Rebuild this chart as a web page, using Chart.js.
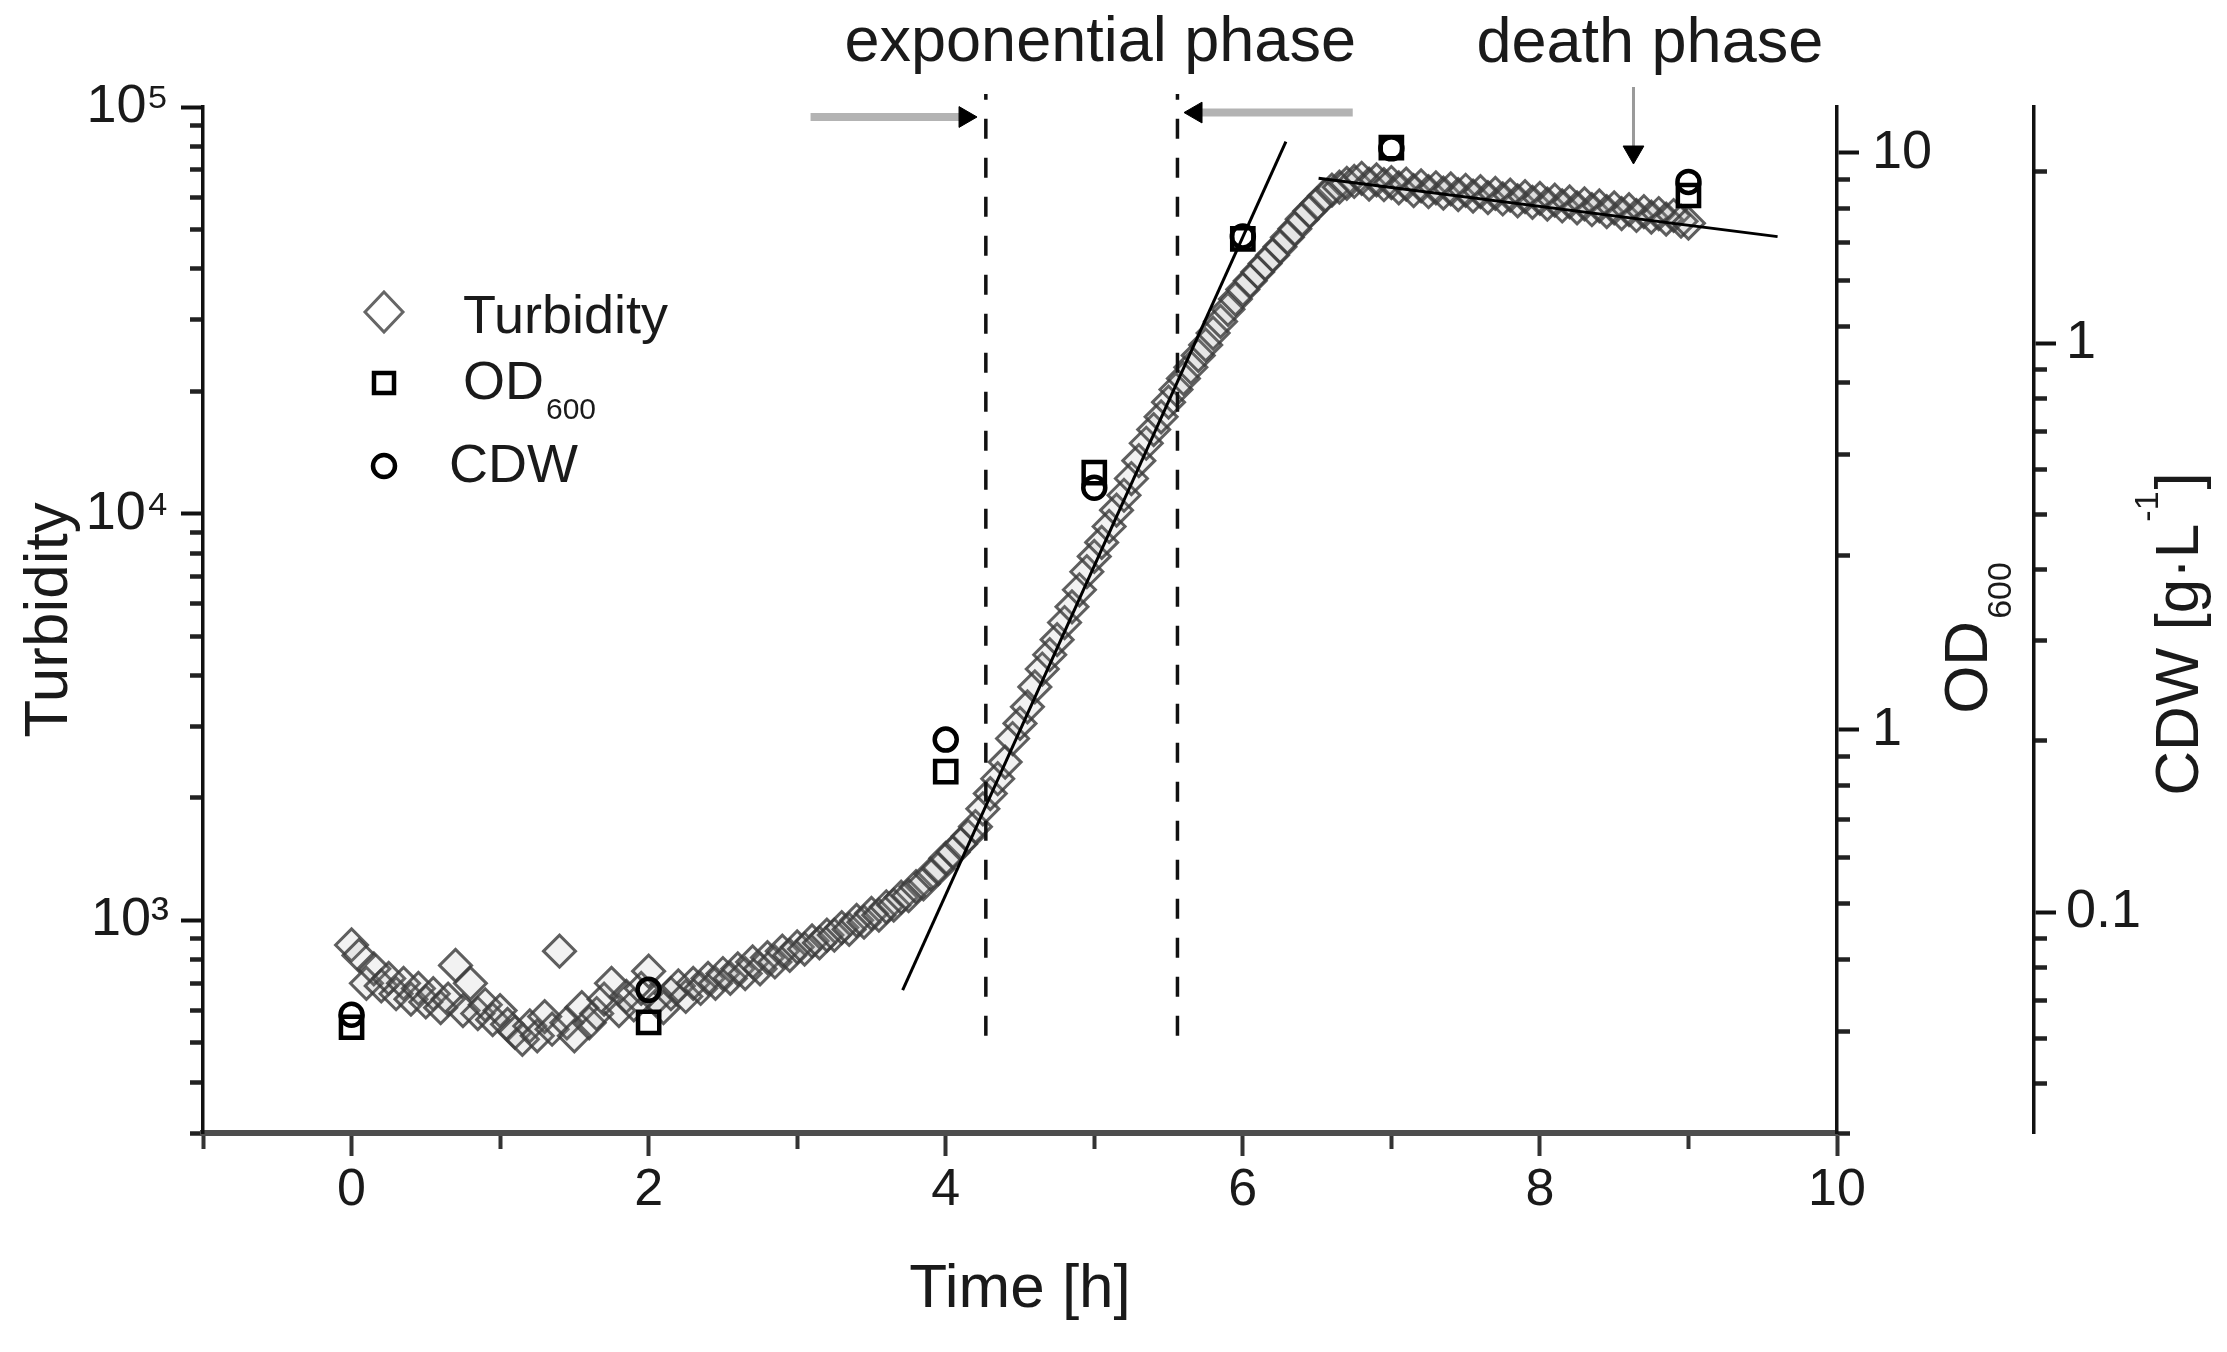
<!DOCTYPE html>
<html>
<head>
<meta charset="utf-8">
<title>Growth curve - turbidity, OD600, CDW</title>
<script src="https://cdn.jsdelivr.net/npm/chart.js@4.4.1/dist/chart.umd.min.js"></script>
<style>
  html, body { margin: 0; padding: 0; background: #fff; }
  #wrap { width: 2227px; height: 1352px; }
</style>
</head>
<body>
<div id="wrap"><canvas id="growthChart"></canvas></div>
<script>
// online turbidity, one reading every 3 min
const turbTime = [
  0, 0.05, 0.1, 0.15, 0.2, 0.25, 0.3, 0.35, 0.4, 0.45,
  0.5, 0.55, 0.6, 0.65, 0.7, 0.75, 0.8, 0.85, 0.9, 0.95,
  1, 1.05, 1.1, 1.15, 1.2, 1.25, 1.3, 1.35, 1.4, 1.45,
  1.5, 1.55, 1.6, 1.65, 1.7, 1.75, 1.8, 1.85, 1.9, 1.95,
  2, 2.05, 2.1, 2.15, 2.2, 2.25, 2.3, 2.35, 2.4, 2.45,
  2.5, 2.55, 2.6, 2.65, 2.7, 2.75, 2.8, 2.85, 2.9, 2.95,
  3, 3.05, 3.1, 3.15, 3.2, 3.25, 3.3, 3.35, 3.4, 3.45,
  3.5, 3.55, 3.6, 3.65, 3.7, 3.75, 3.8, 3.85, 3.9, 3.95,
  4, 4.05, 4.1, 4.15, 4.2, 4.25, 4.3, 4.35, 4.4, 4.45,
  4.5, 4.55, 4.6, 4.65, 4.7, 4.75, 4.8, 4.85, 4.9, 4.95,
  5, 5.05, 5.1, 5.15, 5.2, 5.25, 5.3, 5.35, 5.4, 5.45,
  5.5, 5.55, 5.6, 5.65, 5.7, 5.75, 5.8, 5.85, 5.9, 5.95,
  6, 6.05, 6.1, 6.15, 6.2, 6.25, 6.3, 6.35, 6.4, 6.45,
  6.5, 6.55, 6.6, 6.65, 6.7, 6.75, 6.8, 6.85, 6.9, 6.95,
  7, 7.05, 7.1, 7.15, 7.2, 7.25, 7.3, 7.35, 7.4, 7.45,
  7.5, 7.55, 7.6, 7.65, 7.7, 7.75, 7.8, 7.85, 7.9, 7.95,
  8, 8.05, 8.1, 8.15, 8.2, 8.25, 8.3, 8.35, 8.4, 8.45,
  8.5, 8.55, 8.6, 8.65, 8.7, 8.75, 8.8, 8.85, 8.9, 8.95,
  9
];
const turbValue = [
  870, 820, 700, 760, 690, 720, 660, 700, 640, 680,
  630, 660, 610, 640, 775, 600, 700, 590, 620, 570,
  600, 555, 530, 510, 550, 520, 580, 540, 840, 560,
  520, 610, 560, 590, 640, 700, 600, 650, 620, 680,
  750, 640, 610, 660, 690, 650, 700, 680, 720, 700,
  740, 720, 760, 740, 790, 760, 810, 790, 840, 820,
  860, 850, 890, 880, 920, 920, 960, 950, 1000, 990,
  1040, 1030, 1080, 1090, 1140, 1150, 1210, 1230, 1300, 1340,
  1420, 1470, 1540, 1610, 1700, 1880, 2050, 2230, 2450, 2800,
  3050, 3350, 3750, 4150, 4500, 4900, 5400, 5900, 6500, 7200,
  7850, 8500, 9300, 10200, 11100, 12200, 13500, 14900, 16100, 17300,
  18800, 20200, 21500, 22900, 24500, 26000, 27800, 29700, 31800, 33700,
  35600, 37400, 39300, 41200, 43200, 45300, 47800, 50200, 53000, 55500,
  57800, 60500, 62500, 63500, 64900, 65600, 66800, 64600, 66200, 64400,
  65200, 63300, 64600, 62300, 64000, 61900, 63300, 61400, 62900, 60900,
  62400, 60400, 61900, 59900, 61300, 59400, 60700, 58800, 60200, 58300,
  59600, 57700, 59000, 57100, 58400, 56500, 57800, 55900, 57100, 55300,
  56500, 54700, 55900, 54100, 55300, 53600, 54700, 53000, 54100, 52400,
  51800
];

// offline samples
const sampleTime = [0, 2, 4, 5, 6, 7, 9];
const od600 = [0.305, 0.311, 0.846, 2.79, 7.09, 10.2, 8.43];
const cdw = [0.066, 0.073, 0.201, 0.557, 1.54, 2.2, 1.92];

// fitted lines (exponential growth, death phase)
const expFitTime = [3.71, 6.29];
const expFitValue = [674, 82200];
const deathFitTime = [6.51, 9.6];
const deathFitValue = [66800, 48000];

// phase borders
const phaseBorderTime = [4.27, 5.56];
const phaseBorderSpan = [520, 107700];

// arrows: [tail, head]
const arrowInTime = [3.09, 4.13];
const arrowInLevel = 94500;
const arrowOutTime = [6.74, 5.685];
const arrowOutLevel = 96900;
const deathArrowTime = 8.63;
const deathArrowSpan = [112000, 77500];

// axis labels
const timeTickLabels = ['0', '2', '4', '6', '8', '10'];
const timeTickValues = [0, 2, 4, 6, 8, 10];
const turbTickValues = [1000, 10000, 100000];
const turbTickLabels = ['10\u00B3', '10\u2074', '10\u2075'];
const odTickValues = [1, 10];
const odTickLabels = ['1', '10'];
const cdwTickValues = [0.1, 1];
const cdwTickLabels = ['0.1', '1'];

const FONT = "'Liberation Sans', Arial, Helvetica, sans-serif";
Chart.defaults.font.family = FONT;
Chart.defaults.color = '#1a1a1a';

function xy(xs, ys) {
  return xs.map((x, i) => ({ x, y: ys[i] }));
}

function logTickValues(min, max) {
  const out = [];
  for (let e = Math.floor(Math.log10(min)); Math.pow(10, e) <= max; e++) {
    for (let m = 1; m <= 9; m++) {
      const v = +(m * Math.pow(10, e)).toPrecision(6);
      if (v >= min * 0.999 && v <= max * 1.001) out.push(v);
    }
  }
  return out;
}

function isDecade(v) {
  const l = Math.log10(v);
  return Math.abs(l - Math.round(l)) < 1e-6;
}

function labelFrom(values, labels) {
  return v => {
    const i = values.findIndex(t => Math.abs(t - v) <= Math.abs(t) * 1e-6 + 1e-9);
    return i < 0 ? '' : labels[i];
  };
}

// log axis with decade ticks + a zero-width twin that carries the short minor ticks
function logAxis(position, min, max, width, weight, values, labels, padding, extra) {
  return Object.assign({
    type: 'logarithmic',
    position,
    min,
    max,
    weight,
    afterFit: s => { s.width = width; },
    afterBuildTicks: s => { s.ticks = logTickValues(s.min, s.max).filter(isDecade).map(v => ({ value: v })); },
    border: { color: '#111', width: 3.5 },
    grid: { drawOnChartArea: false, tickLength: 22, tickColor: '#111', tickWidth: 4 },
    ticks: {
      autoSkip: false,
      padding,
      color: '#1a1a1a',
      font: { size: 54 },
      callback: labelFrom(values, labels)
    }
  }, extra || {});
}

function minorAxis(position, min, max, weight) {
  return {
    type: 'logarithmic',
    position,
    min,
    max,
    weight,
    afterFit: s => { s.width = 0; },
    afterBuildTicks: s => { s.ticks = logTickValues(s.min, s.max).filter(v => !isDecade(v)).map(v => ({ value: v })); },
    border: { display: false },
    grid: { drawOnChartArea: false, tickLength: 13, tickColor: '#222', tickWidth: 4.5 },
    ticks: { display: false }
  };
}

const textPlugin = {
  id: 'textPlugin',
  afterDraw(chart) {
    const { ctx, chartArea: ca, scales } = chart;
    ctx.save();
    ctx.fillStyle = '#1a1a1a';
    ctx.textBaseline = 'alphabetic';

    // phase labels
    ctx.font = '63px ' + FONT;
    ctx.textAlign = 'center';
    ctx.fillText('exponential phase', scales.x.getPixelForValue(5.04), ca.top - 46);
    ctx.fillText('death phase', scales.x.getPixelForValue(8.74), ca.top - 45);

    // legend
    const lx = ca.left + 181;
    ctx.lineWidth = 3;
    ctx.strokeStyle = '#666';
    ctx.beginPath();
    ctx.moveTo(lx, ca.top + 185);
    ctx.lineTo(lx + 19, ca.top + 205);
    ctx.lineTo(lx, ca.top + 225);
    ctx.lineTo(lx - 19, ca.top + 205);
    ctx.closePath();
    ctx.stroke();
    ctx.lineWidth = 4.5;
    ctx.strokeStyle = '#000';
    ctx.strokeRect(lx - 10, ca.top + 266, 20, 20);
    ctx.beginPath();
    ctx.arc(lx, ca.top + 359, 11, 0, Math.PI * 2);
    ctx.stroke();

    ctx.textAlign = 'left';
    ctx.font = '54px ' + FONT;
    ctx.fillText('Turbidity', ca.left + 260, ca.top + 226);
    ctx.fillText('OD', ca.left + 260, ca.top + 292);
    const odW = ctx.measureText('OD').width;
    ctx.fillText('CDW', ca.left + 246, ca.top + 375);
    ctx.font = '30px ' + FONT;
    ctx.fillText('600', ca.left + 262 + odW, ca.top + 312);

    // right axis titles, reading upwards
    const midY = (ca.top + ca.bottom) / 2;
    ctx.save();
    ctx.translate(ca.right + 150, midY + 18);
    ctx.rotate(-Math.PI / 2);
    ctx.font = '62px ' + FONT;
    const w1 = ctx.measureText('OD').width;
    ctx.font = '34px ' + FONT;
    const w2 = ctx.measureText('600').width;
    let x0 = -(w1 + w2 + 2) / 2;
    ctx.font = '62px ' + FONT;
    ctx.fillText('OD', x0, 0);
    ctx.font = '34px ' + FONT;
    ctx.fillText('600', x0 + w1 + 2, 24);
    ctx.restore();

    ctx.save();
    ctx.translate(ca.right + 361, midY + 14);
    ctx.rotate(-Math.PI / 2);
    ctx.font = '62px ' + FONT;
    const a = 'CDW [g\u00B7L';
    const wa = ctx.measureText(a).width;
    ctx.font = '34px ' + FONT;
    const sup = '-1';
    const ws = ctx.measureText(sup).width;
    ctx.font = '62px ' + FONT;
    const wb = ctx.measureText(']').width;
    x0 = -(wa + ws + wb + 4) / 2;
    ctx.fillText(a, x0, 0);
    ctx.font = '34px ' + FONT;
    ctx.fillText(sup, x0 + wa + 2, -40);
    ctx.font = '62px ' + FONT;
    ctx.fillText(']', x0 + wa + ws + 4, 0);
    ctx.restore();

    ctx.restore();
  }
};

const lineSet = (data, extra) => Object.assign({
  data,
  yAxisID: 'y',
  showLine: true,
  pointRadius: 0,
  fill: false,
  borderColor: '#000',
  borderWidth: 3,
  clip: false
}, extra);

const headSet = (point, rotation) => ({
  data: [point],
  yAxisID: 'y',
  pointStyle: 'triangle',
  pointRotation: rotation,
  pointRadius: 12,
  pointBackgroundColor: '#000',
  pointBorderColor: '#000',
  pointBorderWidth: 1,
  clip: false,
  order: 0
});

const ctx = document.getElementById('growthChart').getContext('2d');
const growthChart = new Chart(ctx, {
  type: 'scatter',
  data: {
    datasets: [
      {
        label: 'Turbidity',
        data: xy(turbTime, turbValue),
        yAxisID: 'y',
        pointStyle: 'rectRot',
        pointRadius: 16,
        pointBorderColor: 'rgba(60,60,60,0.82)',
        pointBorderWidth: 3,
        pointBackgroundColor: 'rgba(150,150,150,0.12)',
        order: 20
      },
      {
        label: 'OD600',
        data: xy(sampleTime, od600),
        yAxisID: 'od',
        pointStyle: 'rect',
        pointRadius: 15,
        pointBorderColor: '#000',
        pointBorderWidth: 4.5,
        pointBackgroundColor: 'rgba(255,255,255,0)',
        order: 2
      },
      {
        label: 'CDW',
        data: xy(sampleTime, cdw),
        yAxisID: 'cdw',
        pointStyle: 'circle',
        pointRadius: 11,
        pointBorderColor: '#000',
        pointBorderWidth: 4.5,
        pointBackgroundColor: 'rgba(255,255,255,0)',
        order: 1
      },
      lineSet(xy(expFitTime, expFitValue), { order: 5 }),
      lineSet(xy(deathFitTime, deathFitValue), { order: 5 }),
      lineSet(phaseBorderSpan.map(y => ({ x: phaseBorderTime[0], y })), { borderDash: [20, 19], borderWidth: 3.5, borderColor: '#111', order: 6 }),
      lineSet(phaseBorderSpan.map(y => ({ x: phaseBorderTime[1], y })), { borderDash: [20, 19], borderWidth: 3.5, borderColor: '#111', order: 6 }),
      lineSet(arrowInTime.map(x => ({ x, y: arrowInLevel })), { borderColor: '#b3b3b3', borderWidth: 8, order: 3 }),
      lineSet(arrowOutTime.map(x => ({ x, y: arrowOutLevel })), { borderColor: '#b3b3b3', borderWidth: 8, order: 3 }),
      lineSet(deathArrowSpan.map(y => ({ x: deathArrowTime, y })), { borderColor: '#9a9a9a', borderWidth: 3, order: 3 }),
      headSet({ x: arrowInTime[1], y: arrowInLevel }, 90),
      headSet({ x: arrowOutTime[1], y: arrowOutLevel }, 270),
      headSet({ x: deathArrowTime, y: deathArrowSpan[1] }, 180)
    ]
  },
  options: {
    responsive: true,
    maintainAspectRatio: false,
    animation: false,
    devicePixelRatio: 1,
    layout: { padding: { top: 107, left: 0, right: 0, bottom: 0 } },
    plugins: {
      legend: { display: false },
      tooltip: { enabled: false }
    },
    scales: {
      x: {
        type: 'linear',
        position: 'bottom',
        min: -1,
        max: 10,
        afterFit: s => { s.height = 219; },
        afterBuildTicks: s => {
          const t = [];
          for (let v = -1; v <= 10; v++) t.push({ value: v });
          s.ticks = t;
        },
        border: { color: '#4d4d4d', width: 6 },
        grid: {
          drawOnChartArea: false,
          tickLength: 23,
          tickColor: '#333',
          tickWidth: 4,
          tickBorderDash: c => (timeTickValues.includes(c.tick.value) ? [] : [13, 400])
        },
        ticks: {
          autoSkip: false,
          maxRotation: 0,
          padding: 3,
          color: '#1a1a1a',
          font: { size: 52 },
          callback: labelFrom(timeTickValues, timeTickLabels)
        },
        title: {
          display: true,
          text: 'Time [h]',
          color: '#1a1a1a',
          font: { size: 62 },
          padding: { top: 0, bottom: 25 }
        }
      },
      y: logAxis('left', 300, 100000, 203, 1, turbTickValues, turbTickLabels, 12, {
        title: {
          display: true,
          text: 'Turbidity',
          color: '#1a1a1a',
          font: { size: 62 },
          padding: { top: 13, bottom: 0 }
        }
      }),
      yMinor: minorAxis('left', 300, 100000, 0),
      odMinor: minorAxis('right', 0.2, 12, 0),
      od: logAxis('right', 0.2, 12, 197, 1, odTickValues, odTickLabels, 13),
      cdwMinor: minorAxis('right', 0.0409, 2.6, 2),
      cdw: logAxis('right', 0.0409, 2.6, 193, 3, cdwTickValues, cdwTickLabels, 10)
    }
  },
  plugins: [textPlugin]
});
</script>
</body>
</html>
